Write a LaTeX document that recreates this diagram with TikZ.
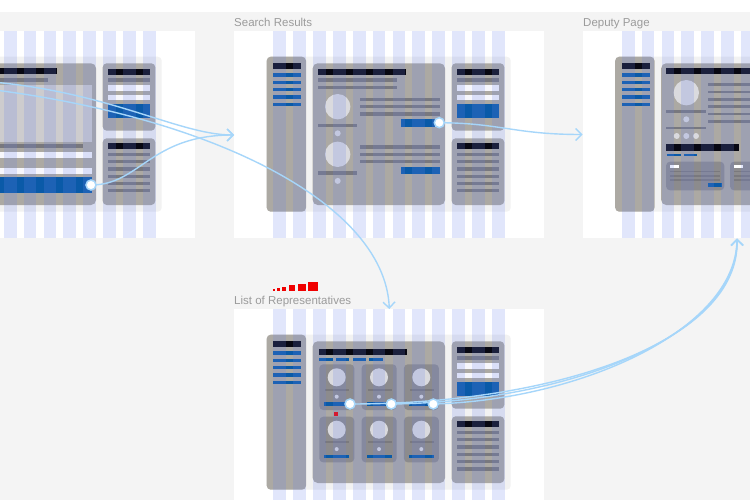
\documentclass[tikz,border=0pt]{standalone}
\usepackage{fontspec}
\setmainfont{Liberation Sans}
\usetikzlibrary{arrows.meta}

\definecolor{canvas}{RGB}{244,244,244}
\definecolor{titlegray}{RGB}{155,155,155}
\definecolor{boxgray}{RGB}{172,169,163}
\definecolor{cardgray}{RGB}{140,139,141}
\definecolor{cardline}{RGB}{122,121,125}
\definecolor{barblack}{RGB}{8,8,18}
\definecolor{linegray}{RGB}{120,120,126}
\definecolor{btnblue}{RGB}{10,90,168}
\definecolor{softwhite}{RGB}{247,247,252}
\definecolor{avatar}{RGB}{218,218,222}
\definecolor{panelgray}{RGB}{205,204,206}
\definecolor{gridblue}{RGB}{105,130,235}
\definecolor{linkblue}{RGB}{166,214,250}
\definecolor{hotred}{RGB}{240,0,0}

\tikzset{
  wfbox/.style={fill=boxgray, rounded corners=4pt},
  wfblack/.style={fill=barblack},
  wfline/.style={fill=linegray},
  wfblue/.style={fill=btnblue},
  wfwhite/.style={fill=softwhite},
  wfround/.style={fill=avatar},
  wfcard/.style={fill=cardgray, rounded corners=4pt},
  gridcol/.style={fill=gridblue, fill opacity=0.2},
  link/.style={draw=linkblue, line width=1.4pt},
  linkto/.style={link, -{Straight Barb[length=6pt,width=12pt]}},
  hotspot/.style={circle, draw=linkblue, fill=white, line width=1.5pt, inner sep=0pt, minimum size=10pt},
  frametitle/.style={anchor=base west, text=titlegray, inner sep=0pt, font=\fontsize{11.5}{13}\selectfont},
}

% one frame of the prototype, origin = top left corner of the frame
\newcommand{\wfframe}{%
  \fill[white] (0,0) rectangle (310,207);
  \fill[black!5, rounded corners=4pt] (32.7,25.7) rectangle (276.7,180.7);
}
\newcommand{\wfnav}{%
  \path[wfbox] (32.7,25.7) rectangle (72,180.7);
  \path[wfblack] (39.3,32.3) rectangle (67,38.3);
  \foreach \k in {0,...,4}
    \path[wfblue] (39.3,42.3+7.35*\k) rectangle (67,45.7+7.35*\k);
}
\newcommand{\wfmain}{\path[wfbox, rounded corners=5pt] (78.7,32.3) rectangle (211,174);}
\newcommand{\wfside}{%
  \path[wfbox] (217.7,32.3) rectangle (270.3,99.7);
  \path[wfblack] (222.7,37.7) rectangle (265.3,43.7);
  \path[wfline] (222.7,47.3) rectangle (265.3,50.7);
  \path[wfwhite] (222.7,54.3) rectangle (265.3,60.3);
  \path[wfwhite] (222.7,63.7) rectangle (265.3,69);
  \path[wfblue] (222.7,73) rectangle (265.3,87.3);
  \path[wfbox] (217.7,107.3) rectangle (270.3,174);
  \path[wfblack] (222.7,111.7) rectangle (265.3,117.7);
  \foreach \k in {0,...,5}
    \path[wfline] (222.7,121.7+7.3*\k) rectangle (265.3,125+7.3*\k);
}
% layout grid on top
\newcommand{\wfgrid}{%
  \foreach \i in {0,...,11}
    \path[gridcol] (39.3+19.88*\i,0) rectangle (52+19.88*\i,207);
}

\begin{document}
\begin{tikzpicture}[x=1pt,y=-1pt]
\useasboundingbox (0,0) rectangle (750,500);
\clip (0,0) rectangle (750,500);
\fill[white] (0,0) rectangle (750,12);
\fill[canvas] (0,12) rectangle (750,500);

% first frame, cut off at the left
\begin{scope}[shift={(-115,31)}]
  \wfframe \wfnav \wfmain \wfside
  \path[wfblack] (83.7,37.3) rectangle (171.7,43);
  \path[wfline] (83.7,46.7) rectangle (163.3,50.7);
  \path[fill=panelgray] (83.7,54) rectangle (206.7,110.7);
  \path[wfline] (83.7,113) rectangle (198.3,117.3);
  \path[wfwhite] (83.7,120.7) rectangle (206.7,126.7);
  \path[wfwhite] (83.7,137.3) rectangle (206.7,143);
  \path[wfblue] (83.7,146.3) rectangle (206.7,161.7);
  \wfgrid
\end{scope}

% Search Results
\begin{scope}[shift={(234,31)}]
  \wfframe \wfnav \wfmain \wfside
  \path[wfblack] (83.7,37.7) rectangle (171.7,43.7);
  \path[wfline] (83.7,47.3) rectangle (162.7,50.7);
  \path[wfline] (83.7,55) rectangle (162.7,58.3);
  \foreach \dy in {0,47.6} {
    \path[wfround] (103.7,75.7+\dy) circle (12.7);
    \path[wfline] (83.7,92.7+\dy) rectangle (123,96+\dy);
    \path[wfround] (103.7,102.3+\dy) circle (3);
    \foreach \ly in {66.7,74,81.3}
      \path[wfline] (126,\ly+\dy) rectangle (206.3,\ly+3.3+\dy);
    \path[wfblue] (166.7,88.3+\dy) rectangle (206.3,95.7+\dy);
  }
  \wfgrid
\end{scope}

% Deputy Page
\begin{scope}[shift={(582.5,31)}]
  \wfframe \wfnav \wfmain \wfside
  \path[wfblack] (83.5,37.3) rectangle (206,43.3);
  \path[wfround] (103.8,61.7) circle (12.7);
  \path[wfline] (83.5,79) rectangle (123.2,81.7);
  \path[wfround] (103.8,88.3) circle (3);
  \path[wfline] (83.5,95.7) rectangle (123.2,98.3);
  \foreach \dx in {-9.6,0,9.7}
    \path[wfround] (103.8+\dx,105) circle (3);
  \foreach \k in {0,...,5}
    \path[wfline] (125.8,52.3+7.35*\k) rectangle (206,55+7.35*\k);
  \path[wfblack] (83.5,113.3) rectangle (156.2,119.7);
  \path[wfblue] (84.2,122.7) rectangle (98.2,125.3);
  \path[wfblue] (101.2,122.7) rectangle (114.8,125.3);
  \foreach \cx in {83.5,147.5} {
    \path[wfcard] (\cx,130.7) rectangle (\cx+58.3,159.3);
    \path[fill=white] (\cx+4,134) rectangle (\cx+13,136.7);
    \foreach \ly in {139.7,144,148}
      \path[fill=cardline] (\cx+4,\ly) rectangle (\cx+54,\ly+1.6);
    \path[wfblue] (\cx+42.3,152.3) rectangle (\cx+55.7,155.7);
  }
  \wfgrid
\end{scope}

% List of Representatives
\begin{scope}[shift={(234,309)}]
  \wfframe \wfnav \wfmain \wfside
  \path[wfblack] (85.3,39.7) rectangle (173.3,45.7);
  \foreach \i in {0,...,3}
    \path[wfblue] (85.3+16.7*\i,49.3) rectangle (98.7+16.7*\i,51.7);
  \foreach \col in {0,1,2}
    \foreach \row in {0,1} {
      \begin{scope}[shift={(85.3+42.3*\col,55.3+52.4*\row)}]
        \path[wfcard] (0,0) rectangle (35,45.7);
        \path[wfround] (17.4,13) circle (9);
        \path[fill=cardline] (6,24.7) rectangle (30,26.4);
        \path[wfround] (17.4,32.4) circle (2);
        \path[wfblue] (5,38) rectangle (30,41.4);
      \end{scope}
    }
  \path[fill=hotred] (100,102.7) rectangle (104.3,106.7);
  \wfgrid
\end{scope}

\node[frametitle] (tsearch) at (234,26.5) {Search Results};
\node[frametitle] (tdeputy) at (583,26.5) {Deputy Page};
\node[frametitle] (tlist) at (234,304.7) {List of Representatives};
\foreach \x/\w/\h in {273.3/2/2, 277.3/2.7/3.3, 281.7/4.3/4.6, 289.3/6/6.6, 297.7/8/7.8, 307.7/10.6/9}
  \fill[hotred] (\x,291.3) rectangle ++(\w,-\h);

% hotspots and targets
\coordinate (offA) at (-40,80);
\coordinate (offB) at (-40,86);
\coordinate (hsSignup) at (91,185);
\coordinate (hsResult) at (439.3,122.7);
\coordinate (hsRep1) at (350,404);
\coordinate (hsRep2) at (391.3,404);
\coordinate (hsRep3) at (433.3,404);
\coordinate (inSearch) at (234,135);
\coordinate (inList) at (389.3,309);
\coordinate (inDeputy) at (582.5,134.5);
\coordinate (inDeputyB) at (737,238.5);

\draw[linkto] (offA) .. controls (100,85) and (175,135) .. (inSearch);
\draw[linkto] (offB) .. controls (200,110) and (385,200) .. (inList);
\draw[linkto] (hsSignup) .. controls (140,185) and (150,135) .. (inSearch);
\draw[linkto] (hsResult) .. controls (500,123) and (515,134.5) .. (inDeputy);
\draw[linkto] (hsRep1) .. controls (560,404) and (740,340) .. (inDeputyB);
\draw[linkto] (hsRep2) .. controls (570,402) and (738,335) .. (inDeputyB);
\draw[linkto] (hsRep3) .. controls (580,400) and (736,330) .. (inDeputyB);

\node[hotspot] (hotSignup) at (hsSignup) {};
\node[hotspot] (hotResult) at (hsResult) {};
\node[hotspot] (hotRep1) at (hsRep1) {};
\node[hotspot] (hotRep2) at (hsRep2) {};
\node[hotspot] (hotRep3) at (hsRep3) {};
\end{tikzpicture}
\end{document}
